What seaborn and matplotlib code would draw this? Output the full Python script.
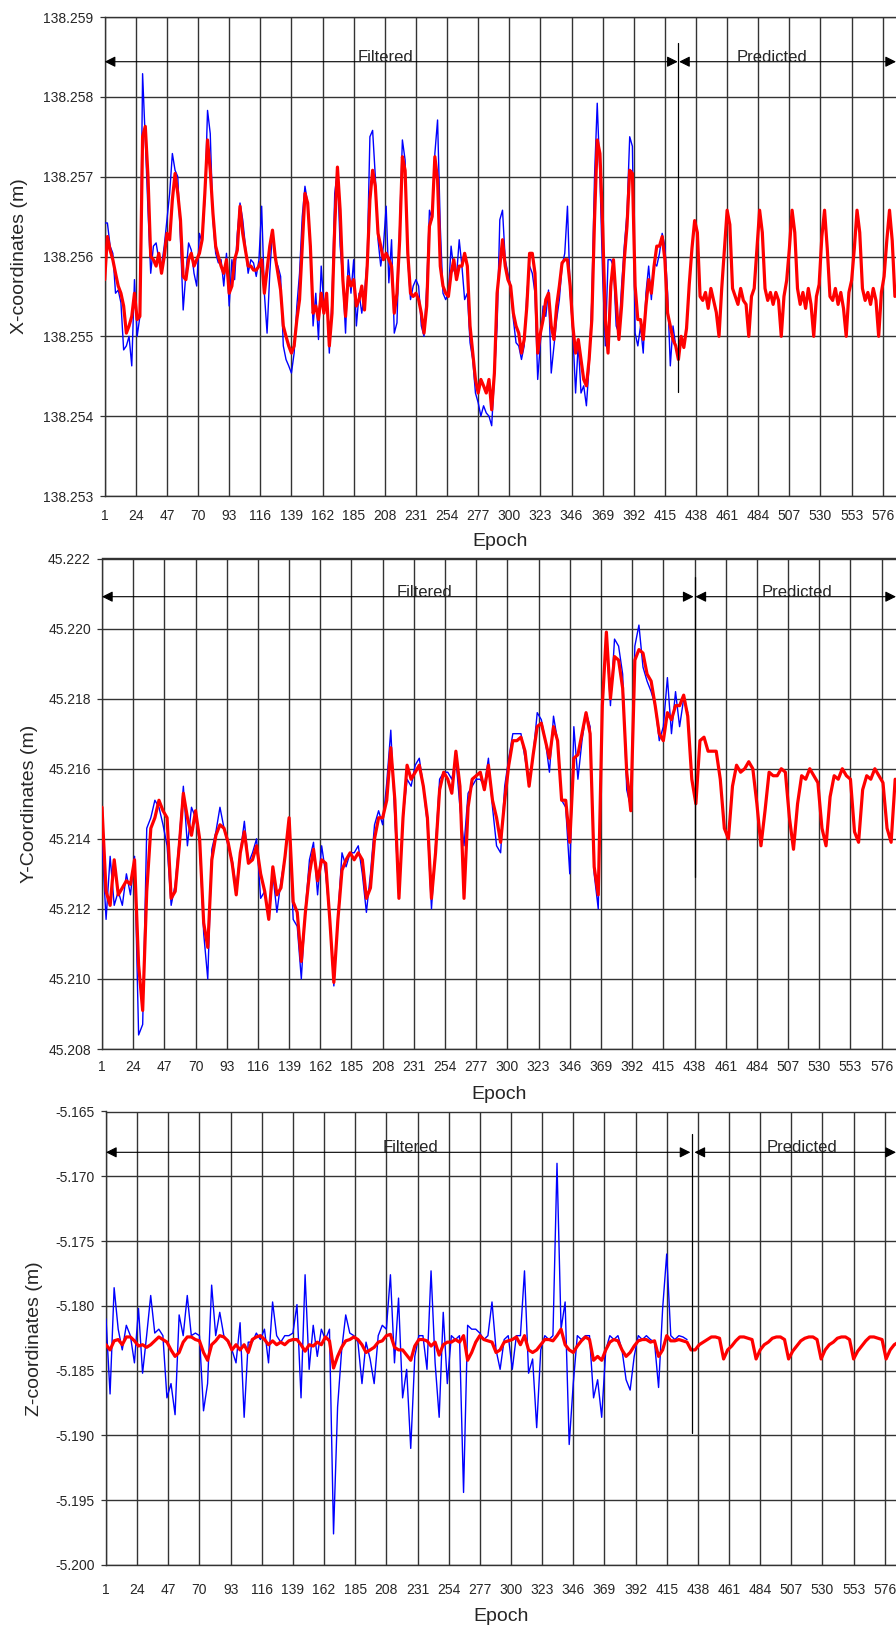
import matplotlib
matplotlib.use("Agg")
import matplotlib.pyplot as plt
import numpy as np
import seaborn as sns

# X coordinate, every 2nd epoch (1, 3, 5, ...)
x_observed = [
    138.25642, 138.25642, 138.25613, 138.25604, 138.25554, 138.25558, 138.25542, 138.25483, 138.25488, 138.25500,
    138.25463, 138.25571, 138.25500, 138.25525, 138.25829, 138.25746, 138.25658, 138.25579, 138.25613, 138.25617,
    138.25596, 138.25588, 138.25613, 138.25646, 138.25679, 138.25729, 138.25708, 138.25700, 138.25621, 138.25533,
    138.25579, 138.25617, 138.25608, 138.25579, 138.25563, 138.25629, 138.25617, 138.25671, 138.25783, 138.25754,
    138.25646, 138.25604, 138.25592, 138.25596, 138.25563, 138.25604, 138.25538, 138.25596, 138.25571, 138.25629,
    138.25667, 138.25646, 138.25613, 138.25579, 138.25596, 138.25592, 138.25575, 138.25596, 138.25663, 138.25554,
    138.25504, 138.25579, 138.25633, 138.25596, 138.25588, 138.25575, 138.25488, 138.25471, 138.25463, 138.25454,
    138.25479, 138.25538, 138.25579, 138.25650, 138.25688, 138.25667, 138.25613, 138.25513, 138.25554, 138.25496,
    138.25588, 138.25538, 138.25554, 138.25479, 138.25546, 138.25679, 138.25708, 138.25613, 138.25571, 138.25504,
    138.25596, 138.25554, 138.25596, 138.25513, 138.25554, 138.25529, 138.25554, 138.25596, 138.25750, 138.25758,
    138.25700, 138.25621, 138.25588, 138.25613, 138.25663, 138.25567, 138.25621, 138.25504, 138.25517, 138.25638,
    138.25746, 138.25721, 138.25596, 138.25546, 138.25563, 138.25571, 138.25563, 138.25513, 138.25500, 138.25563,
    138.25658, 138.25646, 138.25729, 138.25771, 138.25638, 138.25554, 138.25546, 138.25554, 138.25613, 138.25583,
    138.25575, 138.25621, 138.25588, 138.25546, 138.25554, 138.25492, 138.25471, 138.25429, 138.25417, 138.25400,
    138.25413, 138.25404, 138.25400, 138.25388, 138.25450, 138.25513, 138.25646, 138.25658, 138.25596, 138.25579,
    138.25563, 138.25521, 138.25492, 138.25488, 138.25471, 138.25488, 138.25554, 138.25588, 138.25579, 138.25554,
    138.25446, 138.25492, 138.25538, 138.25525, 138.25558, 138.25454, 138.25488, 138.25521, 138.25546, 138.25588,
    138.25604, 138.25663, 138.25554, 138.25504, 138.25429, 138.25492, 138.25429, 138.25438, 138.25413, 138.25463,
    138.25546, 138.25700, 138.25792, 138.25700, 138.25575, 138.25488, 138.25596, 138.25596, 138.25588, 138.25513,
    138.25504, 138.25563, 138.25613, 138.25654, 138.25750, 138.25738, 138.25504, 138.25488, 138.25513, 138.25479,
    138.25554, 138.25588, 138.25546, 138.25592, 138.25588, 138.25604, 138.25629, 138.25613, 138.25554, 138.25463,
    138.25513, 138.25488, 138.25479,
]
x_estimated = [
    138.25571, 138.25625, 138.25608, 138.25596, 138.25579, 138.25563, 138.25554, 138.25538, 138.25504, 138.25513,
    138.25525, 138.25554, 138.25521, 138.25525, 138.25750, 138.25763, 138.25700, 138.25600, 138.25596, 138.25588,
    138.25604, 138.25579, 138.25600, 138.25629, 138.25621, 138.25671, 138.25704, 138.25679, 138.25646, 138.25575,
    138.25571, 138.25596, 138.25604, 138.25588, 138.25596, 138.25604, 138.25621, 138.25679, 138.25746, 138.25708,
    138.25654, 138.25613, 138.25600, 138.25588, 138.25579, 138.25596, 138.25554, 138.25563, 138.25596, 138.25608,
    138.25663, 138.25629, 138.25608, 138.25588, 138.25588, 138.25583, 138.25583, 138.25588, 138.25596, 138.25554,
    138.25583, 138.25613, 138.25633, 138.25600, 138.25579, 138.25558, 138.25513, 138.25500, 138.25488, 138.25479,
    138.25488, 138.25521, 138.25546, 138.25613, 138.25679, 138.25667, 138.25613, 138.25529, 138.25538, 138.25521,
    138.25554, 138.25529, 138.25554, 138.25488, 138.25529, 138.25638, 138.25712, 138.25658, 138.25571, 138.25525,
    138.25575, 138.25563, 138.25571, 138.25538, 138.25546, 138.25563, 138.25533, 138.25588, 138.25671, 138.25708,
    138.25688, 138.25629, 138.25613, 138.25596, 138.25604, 138.25596, 138.25588, 138.25529, 138.25554, 138.25621,
    138.25725, 138.25708, 138.25604, 138.25554, 138.25550, 138.25554, 138.25546, 138.25529, 138.25504, 138.25538,
    138.25638, 138.25650, 138.25725, 138.25696, 138.25588, 138.25563, 138.25554, 138.25550, 138.25579, 138.25596,
    138.25571, 138.25588, 138.25588, 138.25604, 138.25588, 138.25513, 138.25479, 138.25446, 138.25429, 138.25446,
    138.25438, 138.25429, 138.25446, 138.25408, 138.25454, 138.25554, 138.25588, 138.25621, 138.25588, 138.25571,
    138.25563, 138.25529, 138.25513, 138.25504, 138.25479, 138.25496, 138.25538, 138.25604, 138.25604, 138.25579,
    138.25479, 138.25504, 138.25521, 138.25546, 138.25554, 138.25513, 138.25496, 138.25538, 138.25563, 138.25592,
    138.25596, 138.25596, 138.25563, 138.25513, 138.25479, 138.25496, 138.25471, 138.25446, 138.25438, 138.25471,
    138.25521, 138.25646, 138.25746, 138.25729, 138.25638, 138.25521, 138.25479, 138.25563, 138.25596, 138.25546,
    138.25496, 138.25538, 138.25596, 138.25638, 138.25708, 138.25704, 138.25563, 138.25521, 138.25521, 138.25496,
    138.25538, 138.25571, 138.25554, 138.25588, 138.25613, 138.25613, 138.25625, 138.25596, 138.25529, 138.25513,
    138.25496, 138.25488, 138.25471,
    # predicted part
    138.25500, 138.25486, 138.25510, 138.25565, 138.25610, 138.25645, 138.25630, 138.25550, 138.25545, 138.25555,
    138.25535, 138.25560, 138.25545, 138.25530, 138.25500, 138.25560, 138.25610, 138.25658, 138.25640, 138.25560,
    138.25550, 138.25540, 138.25560, 138.25545, 138.25540, 138.25500, 138.25550, 138.25560, 138.25610, 138.25658,
    138.25630, 138.25560, 138.25545, 138.25555, 138.25540, 138.25555, 138.25545, 138.25500, 138.25550, 138.25570,
    138.25610, 138.25658, 138.25630, 138.25560, 138.25540, 138.25555, 138.25535, 138.25560, 138.25540, 138.25500,
    138.25550, 138.25565, 138.25625, 138.25658, 138.25610, 138.25550, 138.25545, 138.25560, 138.25540, 138.25555,
    138.25535, 138.25500, 138.25555, 138.25570, 138.25610, 138.25658, 138.25630, 138.25560, 138.25545, 138.25555,
    138.25540, 138.25560, 138.25545, 138.25500, 138.25555, 138.25575, 138.25620, 138.25658, 138.25620, 138.25550,
]

# Y coordinate, every 3rd epoch (1, 4, 7, ...)
y_observed = [
    45.2139, 45.2117, 45.2135, 45.2121, 45.2125, 45.2121, 45.2130, 45.2124, 45.2135, 45.2084,
    45.2087, 45.2143, 45.2146, 45.2151, 45.2149, 45.2144, 45.2138, 45.2121, 45.2127, 45.2140,
    45.2155, 45.2138, 45.2149, 45.2146, 45.2139, 45.2113, 45.2100, 45.2137, 45.2142, 45.2149,
    45.2143, 45.2138, 45.2134, 45.2126, 45.2136, 45.2145, 45.2133, 45.2136, 45.2140, 45.2123,
    45.2125, 45.2117, 45.2130, 45.2119, 45.2128, 45.2135, 45.2146, 45.2117, 45.2115, 45.2100,
    45.2120, 45.2134, 45.2139, 45.2124, 45.2138, 45.2130, 45.2117, 45.2098, 45.2118, 45.2136,
    45.2132, 45.2136, 45.2136, 45.2138, 45.2130, 45.2119, 45.2130, 45.2144, 45.2148, 45.2144,
    45.2156, 45.2171, 45.2146, 45.2123, 45.2146, 45.2157, 45.2155, 45.2161, 45.2163, 45.2155,
    45.2144, 45.2120, 45.2138, 45.2157, 45.2159,
    45.2159, 45.2157, 45.2163, 45.2149, 45.2138, 45.2153, 45.2155, 45.2157, 45.2157, 45.2155,
    45.2163, 45.2149, 45.2138, 45.2136, 45.2155, 45.2163, 45.2170, 45.2170, 45.2170, 45.2163,
    45.2155, 45.2164, 45.2176, 45.2174, 45.2168, 45.2159, 45.2175, 45.2168, 45.2151, 45.2149,
    45.2130, 45.2172, 45.2157, 45.2168, 45.2176, 45.2172, 45.2130, 45.2120, 45.2178, 45.2198,
    45.2178, 45.2197, 45.2195, 45.2187, 45.2154, 45.2149, 45.2195, 45.2201, 45.2189, 45.2185,
    45.2182, 45.2178, 45.2168, 45.2172, 45.2186, 45.2170, 45.2182, 45.2172, 45.2180, 45.2176,
]
y_estimated = [
    45.2149, 45.2125, 45.2121, 45.2134, 45.2124, 45.2126, 45.2128, 45.2127, 45.2134, 45.2104,
    45.2091, 45.2125, 45.2143, 45.2146, 45.2151, 45.2148, 45.2146, 45.2123, 45.2125, 45.2138,
    45.2153, 45.2146, 45.2141, 45.2148, 45.2140, 45.2116, 45.2109, 45.2134, 45.2141, 45.2144,
    45.2143, 45.2139, 45.2133, 45.2124, 45.2136, 45.2142, 45.2133, 45.2134, 45.2138, 45.2130,
    45.2125, 45.2117, 45.2132, 45.2124, 45.2126, 45.2135, 45.2146, 45.2122, 45.2119, 45.2105,
    45.2119, 45.2130, 45.2137, 45.2128, 45.2134, 45.2133, 45.2117, 45.2099, 45.2117, 45.2131,
    45.2134, 45.2136, 45.2134, 45.2136, 45.2134, 45.2123, 45.2126, 45.2140, 45.2146, 45.2146,
    45.2151, 45.2166, 45.2151, 45.2123, 45.2146, 45.2161, 45.2157, 45.2159, 45.2161, 45.2155,
    45.2146, 45.2123, 45.2136, 45.2154, 45.2159,
    45.2157, 45.2153, 45.2165, 45.2155, 45.2123, 45.2149, 45.2157, 45.2158, 45.2159, 45.2154,
    45.2161, 45.2151, 45.2146, 45.2139, 45.2151, 45.2161, 45.2168, 45.2168, 45.2169, 45.2165,
    45.2155, 45.2164, 45.2172, 45.2173, 45.2168, 45.2163, 45.2172, 45.2168, 45.2151, 45.2151,
    45.2139, 45.2163, 45.2164, 45.2170, 45.2176, 45.2170, 45.2132, 45.2124, 45.2178, 45.2199,
    45.2180, 45.2192, 45.2191, 45.2183, 45.2159, 45.2148, 45.2191, 45.2194, 45.2193, 45.2187,
    45.2185, 45.2178, 45.2170, 45.2168, 45.2176, 45.2174, 45.2178, 45.2178, 45.2181, 45.2175,
    # predicted part
    45.2157, 45.2150, 45.2168, 45.2169, 45.2165, 45.2165, 45.2165, 45.2157, 45.2143, 45.2140,
    45.2155, 45.2161, 45.2159, 45.2160, 45.2162, 45.2160, 45.2150, 45.2138, 45.2148, 45.2159,
    45.2158, 45.2158, 45.2160, 45.2159, 45.2146, 45.2137, 45.2150, 45.2158, 45.2157, 45.2160,
    45.2158, 45.2156, 45.2143, 45.2138, 45.2152, 45.2158, 45.2157, 45.2160, 45.2158, 45.2157,
    45.2142, 45.2139, 45.2154, 45.2158, 45.2157, 45.2160, 45.2158, 45.2156, 45.2143, 45.2139,
    45.2157,
]

# Z coordinate, every 3rd epoch (1, 4, 7, ...)
z_observed = [
    -5.1810, -5.1868, -5.1786, -5.1818, -5.1834, -5.1815, -5.1823, -5.1844, -5.1802, -5.1852,
    -5.1823, -5.1792, -5.1821, -5.1818, -5.1823, -5.1871, -5.1860, -5.1884, -5.1807, -5.1823,
    -5.1792, -5.1823, -5.1821, -5.1823, -5.1881, -5.1860, -5.1784, -5.1823, -5.1805, -5.1823,
    -5.1828, -5.1834, -5.1844, -5.1813, -5.1886, -5.1828, -5.1828, -5.1821, -5.1826, -5.1818,
    -5.1844, -5.1797, -5.1823, -5.1828, -5.1823, -5.1823, -5.1821, -5.1799, -5.1871, -5.1776,
    -5.1849, -5.1815, -5.1839, -5.1818, -5.1826, -5.1818, -5.1976, -5.1878, -5.1834, -5.1807,
    -5.1821, -5.1823, -5.1828, -5.1860, -5.1828, -5.1841, -5.1860, -5.1823, -5.1815, -5.1818,
    -5.1776, -5.1844, -5.1794, -5.1871, -5.1849, -5.1910, -5.1839, -5.1823, -5.1823, -5.1849,
    -5.1773, -5.1844, -5.1886, -5.1805, -5.1860,
    -5.1823, -5.1826, -5.1823, -5.1944, -5.1815, -5.1818, -5.1818, -5.1821, -5.1826, -5.1823,
    -5.1797, -5.1834, -5.1849, -5.1826, -5.1823, -5.1849, -5.1823, -5.1823, -5.1773, -5.1852,
    -5.1841, -5.1894, -5.1834, -5.1823, -5.1826, -5.1823, -5.1690, -5.1818, -5.1797, -5.1907,
    -5.1860, -5.1823, -5.1826, -5.1823, -5.1823, -5.1871, -5.1857, -5.1886, -5.1834, -5.1823,
    -5.1826, -5.1823, -5.1834, -5.1857, -5.1865, -5.1839, -5.1823, -5.1826, -5.1823, -5.1826,
    -5.1828, -5.1863, -5.1802, -5.1760, -5.1823, -5.1826, -5.1823, -5.1824, -5.1826,
]
z_estimated = [
    -5.1830, -5.1834, -5.1827, -5.1826, -5.1830, -5.1824, -5.1824, -5.1827, -5.1831, -5.1830,
    -5.1832, -5.1830, -5.1827, -5.1824, -5.1826, -5.1828, -5.1834, -5.1839, -5.1836, -5.1828,
    -5.1824, -5.1824, -5.1826, -5.1827, -5.1836, -5.1842, -5.1830, -5.1827, -5.1823, -5.1824,
    -5.1827, -5.1834, -5.1830, -5.1834, -5.1830, -5.1836, -5.1826, -5.1824, -5.1823, -5.1826,
    -5.1830, -5.1827, -5.1830, -5.1828, -5.1830, -5.1827, -5.1826, -5.1826, -5.1830, -5.1835,
    -5.1830, -5.1831, -5.1828, -5.1830, -5.1824, -5.1827, -5.1848, -5.1839, -5.1832, -5.1827,
    -5.1826, -5.1824, -5.1826, -5.1830, -5.1836, -5.1834, -5.1832, -5.1828, -5.1827, -5.1823,
    -5.1822, -5.1832, -5.1834, -5.1834, -5.1838, -5.1842, -5.1831, -5.1826, -5.1826, -5.1827,
    -5.1831, -5.1828, -5.1838, -5.1830, -5.1828,
    -5.1828, -5.1826, -5.1828, -5.1823, -5.1842, -5.1836, -5.1828, -5.1823, -5.1826, -5.1827,
    -5.1828, -5.1836, -5.1834, -5.1828, -5.1827, -5.1826, -5.1824, -5.1830, -5.1823, -5.1834,
    -5.1836, -5.1834, -5.1830, -5.1826, -5.1826, -5.1827, -5.1823, -5.1818, -5.1830, -5.1834,
    -5.1836, -5.1831, -5.1827, -5.1824, -5.1826, -5.1842, -5.1839, -5.1842, -5.1834, -5.1828,
    -5.1826, -5.1827, -5.1834, -5.1839, -5.1836, -5.1831, -5.1827, -5.1826, -5.1826, -5.1828,
    -5.1827, -5.1839, -5.1834, -5.1823, -5.1827, -5.1827, -5.1826, -5.1827, -5.1828, -5.1834,
    # predicted part
    -5.1834, -5.1830, -5.1828, -5.1826, -5.1824, -5.1824, -5.1825, -5.1841, -5.1834, -5.1831,
    -5.1827, -5.1824, -5.1824, -5.1825, -5.1826, -5.1841, -5.1834, -5.1830, -5.1828, -5.1825,
    -5.1824, -5.1824, -5.1826, -5.1841, -5.1835, -5.1831, -5.1827, -5.1825, -5.1824, -5.1824,
    -5.1826, -5.1841, -5.1834, -5.1830, -5.1828, -5.1825, -5.1824, -5.1824, -5.1826, -5.1841,
    -5.1835, -5.1831, -5.1827, -5.1824, -5.1824, -5.1825, -5.1826, -5.1841, -5.1834, -5.1830,
    -5.1828,
]

epoch_ticks = list(range(1, 577, 23))
x_ticks = [138.253, 138.254, 138.255, 138.256, 138.257, 138.258, 138.259]
y_ticks = [45.208, 45.210, 45.212, 45.214, 45.216, 45.218, 45.220, 45.222]
z_ticks = [-5.200, -5.195, -5.190, -5.185, -5.180, -5.175, -5.170, -5.165]

sns.set_style("white")
plt.rcParams['font.family'] = ['Liberation Sans', 'DejaVu Sans']
plt.rcParams['axes.unicode_minus'] = False

W, H = 896, 1630
fig = plt.figure(figsize=(W / 100, H / 100), dpi=100)

# pixel layout of each panel: left, top, bottom; plus annotation settings
panels = [
    dict(obs=x_observed, est=x_estimated, step=2, ticks=x_ticks, label='X-coordinates (m)',
         left=104.7, top=17, bottom=496, xmax=585.8, tickpad=9.0, xlab_y=-0.077, ylab_x=-0.097,
         arrow_y=138.25844, split=425, split_y=(138.25867, 138.25430),
         f_end=424.5, p_start=425.5, f_text=208.5, p_text=494),
    dict(obs=y_observed, est=y_estimated, step=3, ticks=y_ticks, label='Y-Coordinates (m)',
         left=102, top=558.5, bottom=1049, xmax=586.6, tickpad=8.0, xlab_y=-0.075, ylab_x=-0.080,
         arrow_y=45.22091, split=438, split_y=(45.22147, 45.21290),
         f_end=437.3, p_start=438.7, f_text=239, p_text=513.5),
    dict(obs=z_observed, est=z_estimated, step=3, ticks=z_ticks, label='Z-coordinates (m)',
         left=106, top=1111.5, bottom=1565, xmax=584.3, tickpad=13.0, xlab_y=-0.095, ylab_x=-0.080,
         arrow_y=-5.16815, split=433.6, split_y=(-5.16671, -5.18985),
         f_end=432.5, p_start=435.5, f_text=225.5, p_text=515),
]

grid_col = '#333333'
for p in panels:
    ax = fig.add_axes([p['left'] / W, 1 - p['bottom'] / H,
                       1 - p['left'] / W, (p['bottom'] - p['top']) / H])
    step = p['step']
    ep_obs = np.arange(1, 1 + step * len(p['obs']), step)
    ep_est = np.arange(1, 1 + step * len(p['est']), step)

    sns.lineplot(x=ep_obs, y=p['obs'], ax=ax, color='#0000ff', linewidth=1.0,
                 estimator=None, sort=False, zorder=3)
    sns.lineplot(x=ep_est, y=p['est'], ax=ax, color='#ff0000', linewidth=2.3,
                 estimator=None, sort=False, zorder=4)

    ax.set_xlim(1, p['xmax'])
    ax.set_ylim(p['ticks'][0], p['ticks'][-1])
    ax.set_xticks(epoch_ticks)
    ax.set_xticklabels([str(t) for t in epoch_ticks], fontsize=10)
    ax.set_yticks(p['ticks'])
    ax.set_yticklabels(['%.3f' % t for t in p['ticks']], fontsize=10)
    ax.grid(True, color=grid_col, linewidth=1.0)
    ax.set_axisbelow(True)
    ax.tick_params(axis='x', length=0, pad=p['tickpad'])
    ax.tick_params(axis='y', length=3.5, width=0.9, color=grid_col, pad=4.5, left=True)
    for side in ['left', 'bottom', 'top']:
        ax.spines[side].set_visible(True)
        ax.spines[side].set_color(grid_col)
        ax.spines[side].set_linewidth(1.0)
    ax.spines['right'].set_visible(False)

    ax.set_xlabel('Epoch', fontsize=14)
    ax.xaxis.set_label_coords(0.5, p['xlab_y'])
    ax.set_ylabel(p['label'], fontsize=14)
    ax.yaxis.set_label_coords(p['ylab_x'], 0.5)

    # split between filtered and predicted part
    ax.plot([p['split'], p['split']], list(p['split_y']), color='black', linewidth=0.9, zorder=5)
    ay = p['arrow_y']
    arrow = dict(arrowstyle='<|-|>', color='black', lw=0.8, mutation_scale=16,
                 shrinkA=0, shrinkB=0)
    ax.annotate('', xy=(p['f_end'], ay), xytext=(1, ay), arrowprops=arrow, zorder=6)
    ax.annotate('', xy=(p['xmax'], ay), xytext=(p['p_start'], ay), arrowprops=arrow,
                zorder=6, annotation_clip=False)
    ax.text(p['f_text'], ay, 'Filtered', fontsize=12, ha='center', va='baseline', zorder=7)
    ax.text(p['p_text'], ay, 'Predicted', fontsize=12, ha='center', va='baseline', zorder=7)

fig.savefig('out.png', dpi=100)
